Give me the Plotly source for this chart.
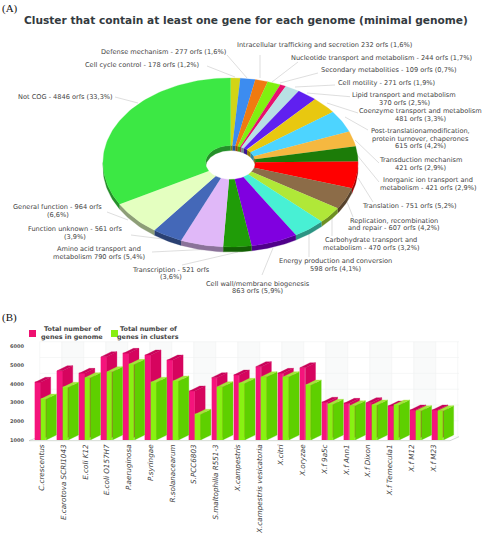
import numpy as np
import plotly.graph_objects as go

W, H = 484, 538

# ---------- panel A data ----------
pie_labels = [
    "Cell cycle control - 178 orfs (1,2%)",
    "Defense mechanism - 277 orfs (1,6%)",
    "Intracellular trafficking and secretion 232 orfs (1,6%)",
    "Nucleotide transport and metabolism - 244 orfs (1,7%)",
    "Secondary metabolities - 109 orfs (0,7%)",
    "Cell motility - 271 orfs (1,9%)",
    "Lipid transport and metabolism<br>370 orfs (2,5%)",
    "Coenzyme transport and metabolism<br>481 orfs (3,3%)",
    "Post-translationamodification,<br>protein turnover, chaperones<br>615 orfs (4,2%)",
    "Transduction mechanism<br>421 orfs (2,9%)",
    "Inorganic ion transport and<br>metabolism - 421 orfs (2,9%)",
    "Translation - 751 orfs (5,2%)",
    "Replication, recombination<br>and repair - 607 orfs (4,2%)",
    "Carbohydrate transport and<br>metabolism - 470 orfs (3,2%)",
    "Energy production and conversion<br>598 orfs (4,1%)",
    "Cell wall/membrane biogenesis<br>863 orfs (5,9%)",
    "Transcription - 521 orfs<br>(3,6%)",
    "Amino acid transport and<br>metabolism 790 orfs (5,4%)",
    "Function unknown - 561 orfs<br>(3,9%)",
    "General function - 964 orfs<br>(6,6%)",
    "Not COG - 4846 orfs (33,3%)",
]
pie_values = [178, 277, 232, 244, 109, 271, 370, 481, 615, 421, 421, 751, 607, 470, 598, 863, 521, 790, 561, 964, 4846]
pie_colors = ["#d2d416", "#3c8cf0", "#f07a10", "#80f010", "#e8106e", "#b8e0e4", "#6020f0", "#e8c810", "#4dd4ff",
              "#f5b840", "#1c7c08", "#ff0000", "#8c6c48", "#b0e838", "#48f0d4", "#8000e0", "#209c08", "#e0b8f8",
              "#4468b8", "#e4ffc0", "#3ce844"]
label_pos = [(142, 65), (163, 52), (324, 45.5), (381, 57.5), (389, 70), (386, 83.5), (404, 99), (420.7, 115),
             (420.7, 138.5), (420.7, 164), (428, 184), (409, 205.7), (394, 224.5), (371, 244), (335, 265),
             (257.7, 287.5), (171, 273.5), (99, 253), (74.7, 233), (57.7, 211), (65, 96.5)]
leaders = [((207, 66), (235, 77)), ((227, 55), (247, 78)), ((260, 55), (260, 78)), ((298, 62), (272, 82)),
           ((318, 73), (280, 83)), ((335, 85), (295, 87)), ((350, 96.7), (307, 93)), ((358, 113), (327, 103)),
           ((368, 130), (345, 117)), ((379, 163), (355, 140)), ((379, 182), (357, 155)), ((373, 202), (358, 178)),
           ((353, 217), (347, 202)), ((332, 236), (332, 218)), ((309, 257), (309, 233)), ((262, 275), (273, 248)),
           ((182, 265), (238, 252)), ((152, 252), (213, 249)), ((131, 235), (163, 239)), ((107, 212), (128, 220)),
           ((115, 97), (138, 103))]

# ---------- panel B data ----------
genomes = ["C.crescentus", "E.carotova SCRI1043", "E.coli K12", "E.coli O157H7", "P.aeruginosa", "P.syringae",
           "R.solanacearum", "S.PCC6803", "S.maltophilia R551-3", "X.campestris", "X.campestris vesicatoria",
           "X.citri", "X.oryzae", "X.f 9a5c", "X.f Ann1", "X.f Dixon", "X.f Temecula1", "X.f M12", "X.f M23"]
genes_in_genome = [4085, 4706, 4565, 5455, 5635, 5545, 5278, 3620, 4330, 4475, 4920, 4565, 4866, 3016, 2960, 2995, 2818, 2604, 2604]
genes_in_clusters = [3190, 3818, 4332, 4652, 5048, 4085, 4155, 2374, 3850, 4032, 4385, 4385, 3941, 2909, 2834, 2872, 2872, 2567, 2567]
value_ticks = [1000, 2000, 3000, 4000, 5000, 6000]
legend_names = ["Total number of<br>genes in genome", "Total number of<br>genes in clusters"]

# ---------- helpers ----------
def shade(c, f):
    r, g, b = int(c[1:3], 16), int(c[3:5], 16), int(c[5:7], 16)
    return "rgb(%d,%d,%d)" % (r * f, g * f, b * f)

def px(x):
    return x / W

def py(y):
    return (H - y) / H

CX, CY, RX, RY, HRX, HRY, DEPTH = 230.5, 162.5, 127.5, 84.5, 25, 17, 5

def arc(t0, t1, rx, ry, dy=0):
    n = max(2, int(abs(t1 - t0) / 1.5) + 2)
    t = np.radians(np.linspace(t0, t1, n))
    return CX + rx * np.sin(t), CY - ry * np.cos(t) + dy

def clip(a, b, windows):
    return [(max(a, w0), min(b, w1)) for w0, w1 in windows if min(b, w1) > max(a, w0)]

fig = go.Figure()
fracs = np.array(pie_values, float) / sum(pie_values) * 360
edges = np.concatenate([[0], np.cumsum(fracs)])

def poly(xs, ys, color, name):
    fig.add_trace(go.Scatter(x=xs, y=ys, mode="lines", fill="toself", fillcolor=color,
                             line=dict(color=color, width=0.3), hoverinfo="skip", name=name,
                             showlegend=False, xaxis="x", yaxis="y"))

for i, c in enumerate(pie_colors):
    for a, b in clip(edges[i], edges[i + 1], [(90, 270)]):
        x1, y1 = arc(a, b, RX, RY)
        x2, y2 = arc(b, a, RX, RY, DEPTH)
        poly(np.r_[x1, x2], np.r_[y1, y2], shade(c, 0.62), "rim")
for i, c in enumerate(pie_colors):
    for a, b in clip(edges[i], edges[i + 1], [(0, 90), (270, 360)]):
        x1, y1 = arc(a, b, HRX, HRY)
        x2, y2 = arc(b, a, HRX, HRY, DEPTH)
        poly(np.r_[x1, x2], np.r_[y1, y2], shade(c, 0.62), "wall")
for i, c in enumerate(pie_colors):
    x1, y1 = arc(edges[i], edges[i + 1], RX, RY)
    x2, y2 = arc(edges[i + 1], edges[i], HRX, HRY)
    poly(np.r_[x1, x2], np.r_[y1, y2], c, pie_labels[i])

# ---------- bars ----------
BAR_X0 = 35.0
STEP = 22.07
DOM_L, DOM_R = 25.0, 470.0
BASE_Y, TOP_Y = 440.0, 330.0
PX_PER_VAL = 18.7 / 1000
xrange_u = [(DOM_L - BAR_X0) / STEP, (DOM_R - BAR_X0) / STEP]
yrange_v = [1000, 1000 + (BASE_Y - TOP_Y) / PX_PER_VAL]
FW = 5.5 / STEP
DX = 10.2 / STEP
DV = 5.0 / PX_PER_VAL
idx = np.arange(len(genomes))

def bars3d(values, shift, front, side, top, ax, name):
    x0 = idx + shift
    fig.add_trace(go.Bar(x=x0, y=values, width=FW, offset=0, marker=dict(color=front, line=dict(width=0.3, color=front)),
                         name=name, showlegend=False, xaxis="x" + ax, yaxis="y" + ax,
                         hoverinfo="y"))
    sx, sy, tx, ty = [], [], [], []
    for x, v in zip(x0, values):
        sx += [x + FW, x + FW + DX, x + FW + DX, x + FW, x + FW, None]
        sy += [1000, 1000 + DV, v + DV, v, 1000, None]
        tx += [x, x + FW, x + FW + DX, x + DX, x, None]
        ty += [v, v, v + DV, v + DV, v, None]
    for xs, ys, c in ((sx, sy, side), (tx, ty, top)):
        fig.add_trace(go.Scatter(x=xs, y=ys, mode="lines", fill="toself", fillcolor=c, line=dict(width=0.3, color=c),
                                 hoverinfo="skip", showlegend=False, xaxis="x" + ax, yaxis="y" + ax))

bars3d(genes_in_genome, 0, "#f5147c", "#d6045e", "#c8045a", "2", legend_names[0].replace("<br>", " "))
bars3d(genes_in_clusters, 5.7 / STEP, "#88f212", "#5ed000", "#a2e83a", "3", legend_names[1].replace("<br>", " "))

# ---------- shapes ----------
shapes = []
def line(p, q, color, width=0.6):
    shapes.append(dict(type="line", xref="paper", yref="paper", x0=px(p[0]), y0=py(p[1]), x1=px(q[0]), y1=py(q[1]),
                       line=dict(color=color, width=width), layer="below"))
wall_x = [39.7 + 22 * k for k in range(20)]
for k in range(1, 19, 2):
    shapes.append(dict(type="rect", xref="paper", yref="paper", x0=px(wall_x[k]), x1=px(wall_x[k + 1]),
                       y0=py(436.7), y1=py(341.7), fillcolor="#f9fafa", line=dict(width=0), layer="below"))
for x in wall_x:
    line((x, 341.7), (x, 436.7), "#f0f2f2")
for k in range(7):
    y = 341.7 + k * 15.83
    line((39.7, y), (459, y), "#f0f2f2")
line((29, 440.7), (39.7, 436.7), "#c8cccc", 0.8)
line((29, 440.7), (450, 440.7), "#c8d0c8", 0.8)
line((450, 440.7), (459, 436.7), "#c8cccc", 0.8)
for p, q in leaders:
    line(p, q, "#c8c8c8", 0.6)
for (x0, x1), c in (((29, 36), "#ee1070"), ((111, 118), "#88ee10")):
    shapes.append(dict(type="rect", xref="paper", yref="paper", x0=px(x0), x1=px(x1), y0=py(337), y1=py(330),
                       fillcolor=c, line=dict(width=0), layer="below"))

# ---------- text ----------
ann = []
def text(x, y, s, size, color="#444", family="DejaVu Sans", xanchor="center"):
    ann.append(dict(x=px(x), y=py(y), xref="paper", yref="paper", text=s, showarrow=False, xanchor=xanchor,
                    yanchor="middle", font=dict(size=size, color=color, family=family), borderpad=0))

def multiline(x, y, s, size, gap, **kw):
    lines = s.split("<br>")
    for j, l in enumerate(lines):
        text(x, y + (j - (len(lines) - 1) / 2) * gap, l, size, **kw)

for s, (x, y) in zip(pie_labels, label_pos):
    multiline(x, y, s, 6.6, 7.7)
text(245.5, 20, "<b>Cluster that contain at least one gene for each genome (minimal genome)</b>", 10.6, color="#333a40")
text(1, 8, "(A)", 11, color="#111", family="Liberation Serif", xanchor="left")
text(1, 317, "(B)", 11, color="#111", family="Liberation Serif", xanchor="left")
multiline(72, 333, "<b>" + legend_names[0].replace("<br>", "</b><br><b>") + "</b>", 6.4, 7.4)
multiline(148, 333, "<b>" + legend_names[1].replace("<br>", "</b><br><b>") + "</b>", 6.4, 7.4)

# ---------- layout ----------
xd = [px(DOM_L), px(DOM_R)]
yd = [py(BASE_Y), py(TOP_Y)]
label_scale = 21.76 / STEP
fig.update_layout(
    width=W, height=H, margin=dict(l=0, r=0, t=0, b=0), paper_bgcolor="white", plot_bgcolor="rgba(0,0,0,0)",
    showlegend=False, shapes=shapes, annotations=ann, bargap=0,
    xaxis=dict(domain=[0, 1], range=[0, W], visible=False, fixedrange=True, automargin=False),
    yaxis=dict(domain=[0, 1], range=[H, 0], visible=False, fixedrange=True, automargin=False),
    xaxis2=dict(domain=xd, range=xrange_u, anchor="y2", showgrid=False, zeroline=False, showline=False, automargin=False,
                tickmode="array", tickvals=list((idx * label_scale + 6.7 / STEP).round(4)),
                ticktext=["<i>%s</i>" % g for g in genomes], tickangle=-90, ticks="", ticklabelstandoff=2,
                tickfont=dict(size=7.2, color="#444", family="DejaVu Sans")),
    yaxis2=dict(domain=yd, range=yrange_v, anchor="x2", showgrid=False, zeroline=False, showline=False, automargin=False,
                tickmode="array", tickvals=value_ticks, ticktext=["<b>%d</b>" % v for v in value_ticks], ticks="",
                tickfont=dict(size=5, color="#555", family="DejaVu Sans")),
    xaxis3=dict(domain=xd, range=xrange_u, overlaying="x2", anchor="y3", visible=False, automargin=False),
    yaxis3=dict(domain=yd, range=yrange_v, overlaying="y2", anchor="x3", visible=False, automargin=False),
)
fig.write_html("out.html", config=dict(displayModeBar=False),
               post_script="document.documentElement.style.overflow='hidden';document.body.style.margin='0';document.body.style.overflow='hidden';")
